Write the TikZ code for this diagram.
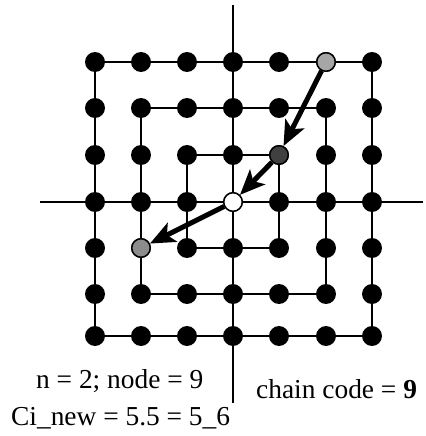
\documentclass[tikz,border=0pt]{standalone}
\usepackage{fontspec}
\setmainfont{Liberation Serif}
\usetikzlibrary{arrows.meta}
\begin{document}
\begin{tikzpicture}[x=1bp,y=-1bp,
  dot/.style={circle,fill=black,draw=black,line width=1.4bp,inner sep=0pt,minimum size=18.5bp},
  gridline/.style={line width=2.2bp,draw=black},
  bigarrow/.style={line width=5bp,-{Stealth[length=25bp,width=21bp,inset=6bp]}},
  lbl/.style={inner sep=0pt,anchor=base west,font=\fontsize{27.5}{32}\selectfont}]
\useasboundingbox (0,0) rectangle (425,436);
% axes
\coordinate (vt) at (233,5);
\coordinate (vb) at (233,403);
\coordinate (hl) at (40,202);
\coordinate (hr) at (423,202);
\draw[gridline] (vt) -- (vb);
\draw[gridline] (hl) -- (hr);
% grid dot coordinates
\foreach \i/\x in {-3/95,-2/141,-1/187,0/233,1/279,2/326,3/372}{
  \foreach \j/\y in {3/62,2/108,1/155,0/202,-1/248,-2/294,-3/336}{
    \coordinate (c\i\j) at (\x,\y);
  }
}
% squares
\draw[gridline] (c-33) -- (c33) -- (c3-3) -- (c-3-3) -- cycle;
\draw[gridline] (c-22) -- (c22) -- (c2-2) -- (c-2-2) -- cycle;
\draw[gridline] (c-11) -- (c11) -- (c1-1) -- (c-1-1) -- cycle;
% dots
\foreach \i in {-3,...,3}{
  \foreach \j in {-3,...,3}{
    \node[dot] (d\i\j) at (c\i\j) {};
  }
}
% special dots
\node[dot,fill=black!35] (s1) at (c23) {};
\node[dot,fill=black!75] (s2) at (c11) {};
\node[dot,fill=white] (s3) at (c00) {};
\node[dot,fill=black!45] (s4) at (c-2-1) {};
% arrows
\draw[bigarrow] (s1) -- (s2);
\draw[bigarrow] (s2) -- (s3);
\draw[bigarrow] (s3) -- (s4);
% labels
\node[lbl] (t1) at (36,388) {n = 2; node = 9};
\node[lbl] (t2) at (256,398) {chain code = \textbf{9}};
\node[lbl] (t3) at (11,425) {Ci\_new = 5.5 = 5\_6};
\end{tikzpicture}
\end{document}
